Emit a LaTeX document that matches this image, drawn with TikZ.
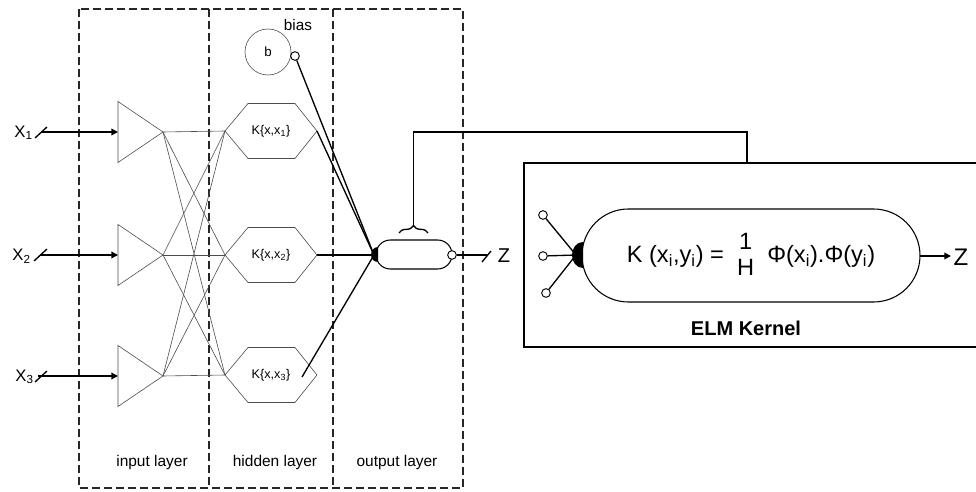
\documentclass[tikz,border=0pt]{standalone}
\usepackage{fontspec}
\setmainfont{Liberation Sans}
\usetikzlibrary{arrows.meta,decorations.pathreplacing}
\begin{document}
\begin{tikzpicture}[x=0.75pt,y=-0.75pt,
  thinline/.style={draw=black!70, line width=0.45pt},
  wire/.style={draw=black, line width=1pt},
  layerbox/.style={draw=black!85, line width=0.8pt, dash pattern=on 6pt off 3pt},
  lyr/.style={font=\fontsize{11.6}{13}\selectfont, inner sep=0pt},
  xlab/.style={font=\fontsize{12.5}{14}\selectfont, inner sep=0pt, anchor=east},
  klab/.style={font=\fontsize{9.5}{11}\selectfont, inner sep=0pt},
  pin/.style={draw=black, line width=0.7pt, fill=white, circle, inner sep=0pt, minimum size=6.5pt},
  arr/.style={-{Triangle[length=5pt,width=5pt]}}
]
\useasboundingbox (0,0) rectangle (976,492);

% layer boxes
\draw[layerbox] (79,9) rectangle (463,488);
\draw[layerbox] (209,9) -- (209,488);
\draw[layerbox] (333,9) -- (333,488);
\node[lyr] (lin) at (152,462) {input layer};
\node[lyr] (lhid) at (275,462) {hidden layer};
\node[lyr] (lout) at (397,462) {output layer};

% input triangles
\foreach \i/\c in {1/132,2/255,3/376}{
  \draw[thinline] (118,\c-30.5) -- (163,\c) -- (118,\c+30.5) -- cycle;
  \coordinate (t\i) at (163,\c);
  \coordinate (ti\i) at (118,\c);
}
% hexagons
\foreach \i/\c in {1/131,2/255,3/375}{
  \draw[thinline] (225,\c) -- (248,\c-27.5) -- (295,\c-27.5) -- (317,\c) -- (295,\c+27.5) -- (248,\c+27.5) -- cycle;
  \coordinate (hl\i) at (225,\c);
  \coordinate (hr\i) at (317,\c);
  \node[klab] (k\i) at (271,\c) {K\{x,x\textsubscript{\i}\}};
}
% full connections
\foreach \a in {1,2,3}{
  \foreach \b in {1,2,3}{
    \draw[thinline] (t\a) -- (hl\b);
  }
}

% inputs
\node[xlab] (x1) at (33,133) {X\textsubscript{1}};
\node[xlab] (x2) at (31,256) {X\textsubscript{2}};
\node[xlab] (x3) at (34,377) {X\textsubscript{3}};
\coordinate (s1) at (41,132);
\coordinate (s2) at (40,255);
\coordinate (s3) at (38,376);
\draw[wire] (35,138) -- (47,127);
\draw[wire] (34,261) -- (47,249);
\draw[wire] (35,382) -- (47,371);
\foreach \i in {1,2,3}{ \draw[wire,arr] (s\i) -- (ti\i); }

% bias
\node[circle, thinline, minimum size=34.5pt, inner sep=0pt] (bias) at (268,52) {};
\node[font=\fontsize{10}{12}\selectfont, inner sep=0pt] (bl) at (268,52) {b};
\node[font=\fontsize{11.5}{13}\selectfont, inner sep=0pt] (biaslbl) at (298,25) {bias};
\node[pin] (bpin) at (295,56) {};

% output neuron
\draw[draw=black, line width=0.8pt, fill=white, rounded corners=10.8pt] (376,240) rectangle (452,269);
\coordinate (onode) at (374,255);
\fill (378,247) to[out=180,in=90] (371,255) to[out=-90,in=180] (378,262) -- cycle;
\draw[wire] (bpin) -- (onode);
\draw[wire] (hr1) -- (onode);
\draw[wire] (hr2) -- (onode);
\draw[wire] (302,377) -- (onode);
\node[pin] (opin) at (452,255) {};
\coordinate (oend) at (487,255);
\draw[wire] (opin) -- (oend);
\draw[wire] (482,262) -- (491,251);
\node[font=\fontsize{15}{17}\selectfont, inner sep=0pt] (zout) at (504,256) {Z};

% brace and link
\draw[wire, decorate, decoration={brace, amplitude=5.5pt}] (399,233) -- (428,233);
\coordinate (bt) at (413.5,226);
\coordinate (elmtop) at (747,163);
\draw[wire] (bt) -- (413.5,132) -- (747,132) -- (elmtop);

% ELM box
\draw[draw=black, line width=0.9pt] (980,163) -- (524,163) -- (524,347) -- (980,347);
\draw[draw=black, line width=0.8pt, rounded corners=34.8pt] (582,209) rectangle (920,302);
\coordinate (eblob) at (576,255);
\fill (583,242) to[out=180,in=90] (572,255) to[out=-90,in=180] (583,268) -- cycle;
\node[pin] (e1) at (543,215) {};
\node[pin] (e2) at (543,256) {};
\node[pin] (e3) at (546,293) {};
\foreach \i in {1,2,3}{ \draw[wire] (e\i) -- (eblob); }
\node[font=\fontsize{17.7}{20}\selectfont, inner sep=0pt] (formula) at (751,257)
  {K (x\textsubscript{i},y\textsubscript{i}) =\; \begin{tabular}{@{}c@{}}1\\[-1pt]H\end{tabular}\; Φ(x\textsubscript{i}).Φ(y\textsubscript{i})};
\coordinate (eout) at (920,256);
\coordinate (zin) at (951,256);
\draw[wire, arr] (eout) -- (zin);
\node[font=\fontsize{18}{20}\selectfont, inner sep=0pt] (zelm) at (961,257) {Z};
\node[font=\bfseries\fontsize{15}{17}\selectfont, inner sep=0pt] (elmlbl) at (746,328) {ELM Kernel};
\end{tikzpicture}
\end{document}
